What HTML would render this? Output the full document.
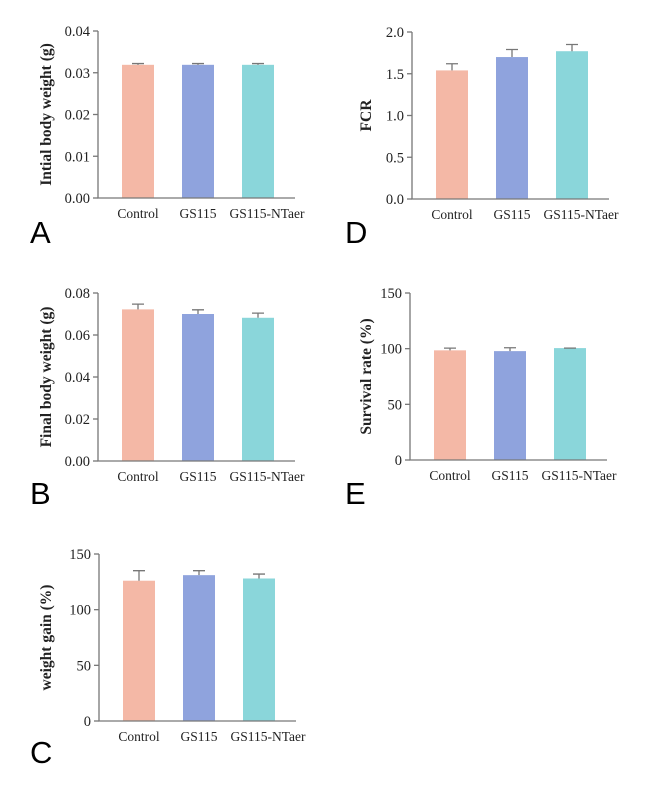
<!DOCTYPE html>
<html><head><meta charset="utf-8"><style>
body{margin:0;background:#fff;}
svg{display:block;}
text{font-family:"Liberation Serif",serif;fill:#222;}
</style></head><body>
<svg id="fig" width="653" height="792"></svg>
<script>
const categories=["Control","GS115","GS115-NTaer"];
const colors=["#f4b8a6","#8fa3dd","#8ad6da"];
const valuesA=[0.0319,0.0319,0.0319];
const errorsA=[0.0003,0.0003,0.0003];
const ticksA=["0.00","0.01","0.02","0.03","0.04"];
const valuesB=[0.0722,0.0700,0.0682];
const errorsB=[0.0025,0.0020,0.0022];
const ticksB=["0.00","0.02","0.04","0.06","0.08"];
const valuesC=[126,131,128];
const errorsC=[9,4,4];
const ticksC=["0","50","100","150"];
const valuesD=[1.54,1.70,1.77];
const errorsD=[0.08,0.09,0.08];
const ticksD=["0.0","0.5","1.0","1.5","2.0"];
const valuesE=[98.5,97.8,100.5];
const errorsE=[2,3,0];
const ticksE=["0","50","100","150"];

const NS="http://www.w3.org/2000/svg";
const svg=document.getElementById('fig');
function mk(tag,attrs,parent){const e=document.createElementNS(NS,tag);for(const k in attrs)e.setAttribute(k,attrs[k]);(parent||svg).appendChild(e);return e;}

const panels=[
 {id:'a',letter:'A',vals:valuesA,errs:errorsA,ticks:ticksA,title:'Intial body weight (g)',ax:98,top:31,bot:198,lx:30,ly:243,tx:46},
 {id:'b',letter:'B',vals:valuesB,errs:errorsB,ticks:ticksB,title:'Final body weight (g)',ax:98,top:293,bot:461,lx:30,ly:504,tx:46},
 {id:'c',letter:'C',vals:valuesC,errs:errorsC,ticks:ticksC,title:'weight gain (%)',ax:99,top:554,bot:721,lx:30,ly:763,tx:46},
 {id:'d',letter:'D',vals:valuesD,errs:errorsD,ticks:ticksD,title:'FCR',ax:412,top:32,bot:199,lx:345,ly:243,tx:366},
 {id:'e',letter:'E',vals:valuesE,errs:errorsE,ticks:ticksE,title:'Survival rate (%)',ax:410,top:293,bot:460,lx:345,ly:504,tx:366},
];
const barOff=[24,84,144], barW=32, axLen=197, labelShift=[0,0,9];

panels.forEach(p=>{
 const g=mk('g',{});
 
 
 const tmax=parseFloat(p.ticks[p.ticks.length-1]);
 const y=v=>p.bot-(v/tmax)*(p.bot-p.top);
 p.vals.forEach((v,i)=>{
  const x=p.ax+barOff[i];
  const r=mk('rect',{x:x,y:y(v),width:barW,height:p.bot-y(v),fill:colors[i]},g);
  
  
  const cx=x+barW/2, ey=y(v+p.errs[i]);
  const eb=mk('path',{d:`M${cx},${y(v)}V${ey}M${cx-6},${ey}H${cx+6}`,stroke:'#777','stroke-width':1.3,fill:'none'},g);
  
  
  const t=mk('text',{x:cx+labelShift[i],y:p.bot+20,'text-anchor':'middle','font-size':13.5},g);
  t.textContent=categories[i];
  
  
 });
 const axis=mk('path',{d:`M${p.ax},${p.top}V${p.bot}H${p.ax+axLen}`,stroke:'#777','stroke-width':1.3,fill:'none'},g);
 
 
 p.ticks.forEach(tl=>{
  const ty=y(parseFloat(tl));
  const tk=mk('path',{d:`M${p.ax-5},${ty}H${p.ax}`,stroke:'#777','stroke-width':1.3},g);
  
  
  const t=mk('text',{x:p.ax-8,y:ty+5,'text-anchor':'end','font-size':14.5},g);
  t.textContent=tl;
  
  
 });
 const ym=(p.top+p.bot)/2;
 const tt=mk('text',{x:p.tx,y:ym,'text-anchor':'middle','font-size':15.5,'font-weight':'bold',transform:`rotate(-90 ${p.tx} ${ym})`,dy:5},g);
 tt.textContent=p.title;
 
 
 const L=mk('text',{x:p.lx,y:p.ly,'font-size':31},g);
 L.setAttribute('style','font-family:"Liberation Sans",sans-serif;fill:#000');
 L.textContent=p.letter;
 
 
});
</script>
</body></html>
